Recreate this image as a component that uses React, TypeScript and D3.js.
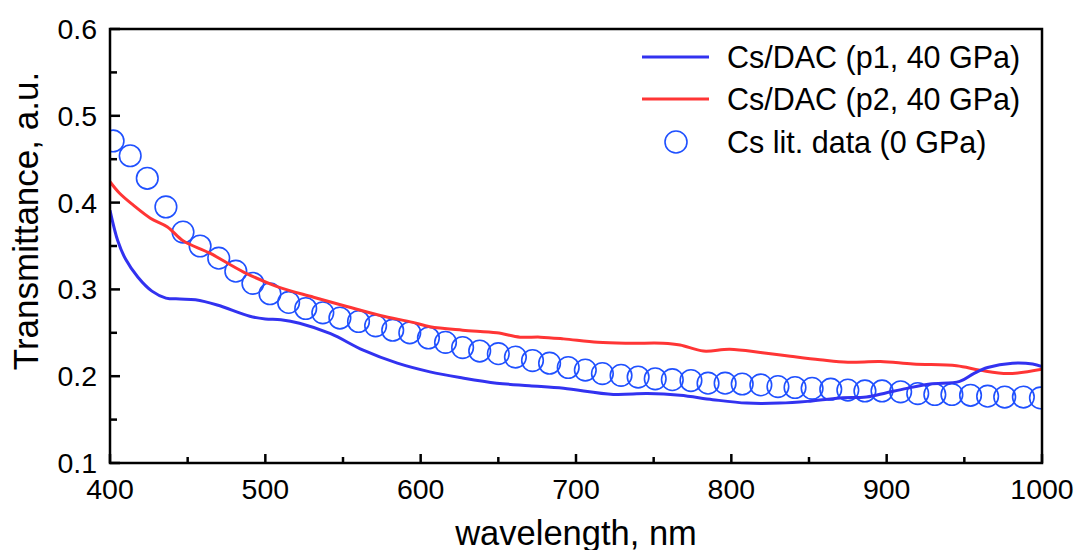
import React from "react";
import * as d3 from "d3";

// ---- data ----
const litWavelength = [402, 413, 424, 436, 447, 458, 470, 481, 492, 503, 515, 526, 537, 548, 560, 571, 582, 593, 605, 616, 627, 638, 650, 661, 672, 683, 695, 706, 717, 729, 740, 751, 762, 774, 785, 796, 807, 819, 830, 841, 852, 864, 875, 886, 897, 909, 920, 931, 942, 954, 965, 976, 988, 999];
const litValues = [0.471, 0.454, 0.428, 0.395, 0.366, 0.35, 0.336, 0.321, 0.307, 0.295, 0.285, 0.278, 0.273, 0.267, 0.263, 0.258, 0.253, 0.25, 0.244, 0.239, 0.233, 0.229, 0.226, 0.222, 0.218, 0.215, 0.21, 0.207, 0.203, 0.201, 0.199, 0.197, 0.196, 0.195, 0.192, 0.192, 0.191, 0.19, 0.188, 0.187, 0.186, 0.185, 0.184, 0.183, 0.183, 0.182, 0.18, 0.179, 0.179, 0.178, 0.177, 0.176, 0.176, 0.175];

const p1Wavelength = [400, 405, 410, 418, 427, 436, 445, 455, 469, 490, 500, 510, 522, 542, 563, 585, 606, 627, 649, 670, 692, 724, 746, 767, 788, 810, 831, 849, 870, 887, 900, 913, 928, 947, 956, 965, 981, 994, 1000];
const p1Values = [0.391, 0.356, 0.335, 0.314, 0.298, 0.29, 0.289, 0.288, 0.282, 0.269, 0.266, 0.265, 0.261, 0.249, 0.23, 0.215, 0.205, 0.198, 0.192, 0.189, 0.186, 0.179, 0.18, 0.178, 0.173, 0.169, 0.169, 0.171, 0.175, 0.176, 0.181, 0.186, 0.191, 0.194, 0.203, 0.21, 0.215, 0.214, 0.211];

const p2Wavelength = [400, 406, 415, 426, 437, 447, 464, 486, 508, 531, 553, 574, 595, 606, 627, 649, 664, 677, 692, 714, 735, 756, 767, 782, 799, 820, 838, 857, 875, 896, 917, 945, 960, 978, 1000];
const p2Values = [0.424, 0.411, 0.397, 0.382, 0.372, 0.356, 0.342, 0.32, 0.303, 0.291, 0.28, 0.27, 0.262, 0.257, 0.253, 0.25, 0.245, 0.245, 0.243, 0.239, 0.238, 0.238, 0.236, 0.229, 0.231, 0.227, 0.223, 0.219, 0.216, 0.217, 0.214, 0.212, 0.207, 0.203, 0.208];

const xTicks = [400, 500, 600, 700, 800, 900, 1000];
const xMinorTicks = [450, 550, 650, 750, 850, 950];
const yTicks = [0.1, 0.2, 0.3, 0.4, 0.5, 0.6];
const yMinorTicks = [0.15, 0.25, 0.35, 0.45, 0.55];

const legendLabels = ["Cs/DAC (p1, 40 GPa)", "Cs/DAC (p2, 40 GPa)", "Cs lit. data (0 GPa)"];

const BLUE = "#3232f0";
const RED = "#ff3535";
const CIRCLE = "#1f50ff";
const FONT = "'Liberation Sans', Arial, sans-serif";

export default function App() {
  const W = 1078, H = 550;
  const left = 110, right = 1042, top = 29, bottom = 463;
  const x = d3.scaleLinear().domain([400, 1000]).range([left, right]);
  const y = d3.scaleLinear().domain([0.1, 0.6]).range([bottom, top]);

  const line = d3
    .line<[number, number]>()
    .x((d) => x(d[0]))
    .y((d) => y(d[1]))
    .curve(d3.curveCatmullRom.alpha(0.5));

  const p1 = line(p1Wavelength.map((w, i) => [w, p1Values[i]]));
  const p2 = line(p2Wavelength.map((w, i) => [w, p2Values[i]]));

  const legendY = [57, 99, 142];

  return (
    <div style={{ position: "fixed", left: 0, top: 0 }}>
      <svg width={W} height={H} style={{ display: "block", background: "#fff" }} fontFamily={FONT}>
        <defs>
          <clipPath id="plot">
            <rect x={left} y={top} width={right - left} height={bottom - top} />
          </clipPath>
        </defs>
        <g clipPath="url(#plot)">
          {litWavelength.map((w, i) => (
            <circle key={i} cx={x(w)} cy={y(litValues[i])} r={10.8} fill="none" stroke={CIRCLE} strokeWidth={1.6} />
          ))}
          <path d={p2 || ""} fill="none" stroke={RED} strokeWidth={3} />
          <path d={p1 || ""} fill="none" stroke={BLUE} strokeWidth={3} />
        </g>

        {/* frame */}
        <rect x={left} y={top} width={right - left} height={bottom - top} fill="none" stroke="#000" strokeWidth={2.5} />

        {/* ticks */}
        {xTicks.map((t) => (
          <line key={"xt" + t} x1={x(t)} x2={x(t)} y1={bottom} y2={bottom - 9} stroke="#000" strokeWidth={2.5} />
        ))}
        {xMinorTicks.map((t) => (
          <line key={"xm" + t} x1={x(t)} x2={x(t)} y1={bottom} y2={bottom - 6} stroke="#000" strokeWidth={2.5} />
        ))}
        {yTicks.map((t) => (
          <line key={"yt" + t} x1={left} x2={left + 10} y1={y(t)} y2={y(t)} stroke="#000" strokeWidth={2.5} />
        ))}
        {yMinorTicks.map((t) => (
          <line key={"ym" + t} x1={left} x2={left + 7} y1={y(t)} y2={y(t)} stroke="#000" strokeWidth={2.5} />
        ))}

        {/* tick labels */}
        {xTicks.map((t) => (
          <text key={"xl" + t} x={x(t)} y={499} textAnchor="middle" fontSize={28.5} fill="#000">
            {t}
          </text>
        ))}
        {yTicks.map((t) => (
          <text key={"yl" + t} x={97} y={y(t) + 10} textAnchor="end" fontSize={28.5} fill="#000">
            {t.toFixed(1)}
          </text>
        ))}

        {/* axis titles */}
        <text x={(left + right) / 2} y={545} textAnchor="middle" fontSize={34.5} fill="#000">
          wavelength, nm
        </text>
        <text transform={`translate(38,221) rotate(-90)`} textAnchor="middle" fontSize={35} fill="#000">
          Transmittance, a.u.
        </text>

        {/* legend */}
        <line x1={642} x2={709} y1={legendY[0]} y2={legendY[0]} stroke={BLUE} strokeWidth={3} />
        <line x1={642} x2={709} y1={legendY[1]} y2={legendY[1]} stroke={RED} strokeWidth={3} />
        <circle cx={676} cy={legendY[2]} r={11} fill="none" stroke={CIRCLE} strokeWidth={1.6} />
        {legendLabels.map((l, i) => (
          <text key={l} x={727} y={legendY[i] + 10.5} fontSize={30.5} fill="#000">
            {l}
          </text>
        ))}
      </svg>
    </div>
  );
}
